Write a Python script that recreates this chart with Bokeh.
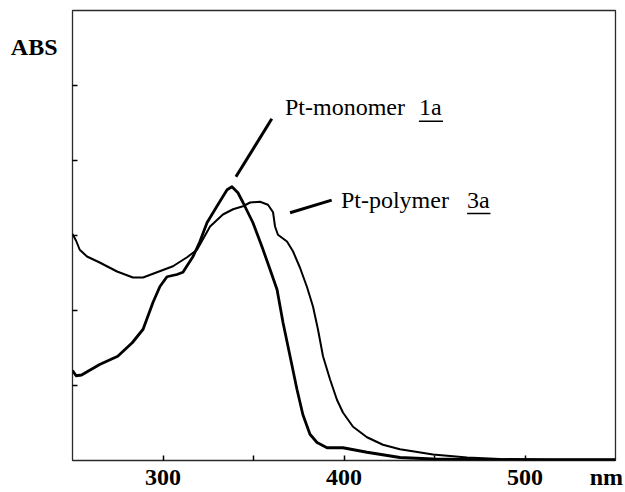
from bokeh.plotting import figure
from bokeh.models import Range1d, FixedTicker, ColumnDataSource
from bokeh.core.properties import value
from bokeh.embed import file_html
from bokeh.resources import INLINE

# ---- data ----
mono_nm = [250, 252, 255, 265, 275, 283, 289, 294.5, 298.3, 302.2, 307.7, 311, 316.6, 320.4,
           324.3, 329.8, 335.4, 338.1, 341.4, 344.2, 349.7, 354.7, 359.1, 363, 366.3, 370.2,
           374, 377.3, 381.2, 385.1, 390.6, 399.4, 412.7, 430.9, 449.2, 475, 510, 550]
mono_abs = [1.20, 1.13, 1.14, 1.28, 1.39, 1.57, 1.75, 2.11, 2.32, 2.45, 2.48, 2.51, 2.72, 2.92,
            3.17, 3.39, 3.61, 3.65, 3.57, 3.44, 3.17, 2.85, 2.55, 2.28, 1.84, 1.39,
            0.95, 0.61, 0.35, 0.24, 0.17, 0.17, 0.11, 0.04, 0.02, 0.01, 0.01, 0.01]

poly_nm = [250, 252, 254, 258, 265, 274.6, 283.4, 289, 296.7, 305.5, 313.3, 318.8, 326, 333.1,
           338.7, 344.2, 348.1, 353.6, 358, 360.8, 361.9, 363.5, 368.5, 371.8, 375.7, 379.6,
           382.9, 385.6, 388.4, 392.3, 396.1, 399.4, 405, 412.7, 421.5, 430.9, 449.2, 468,
           486.2, 514, 550]
poly_abs = [3.02, 2.93, 2.81, 2.72, 2.64, 2.52, 2.44, 2.44, 2.51, 2.59, 2.71, 2.81, 3.12, 3.28,
            3.35, 3.39, 3.44, 3.45, 3.41, 3.31, 3.12, 3.01, 2.92, 2.79, 2.57, 2.31,
            2.05, 1.75, 1.39, 1.08, 0.81, 0.64, 0.45, 0.31, 0.21, 0.15, 0.08, 0.04,
            0.02, 0.01, 0.01]

x_label_ticks = [300, 400, 500, 545]
x_tick_labels = ["300", "400", "500", "nm"]
x_marks = [300, 350, 400, 450, 500]
y_label_ticks = [5.52]
y_tick_labels = ["ABS"]
y_marks = [1, 2, 3, 4, 5]

# annotations (data coordinates)
ann_text = ["Pt-monomer", "Pt-polymer"]
ann_x = [367.4, 398.3]
ann_y = [4.709, 3.472]
ann_sub = ["1a", "3a"]
sub_x = [441.4, 468.0]
under_x1 = [454.7, 480.9]
under_y = [4.523, 3.292]
ptr_x0 = [360.1, 370.2]
ptr_y0 = [4.556, 3.303]
ptr_x1 = [340.3, 393.2]
ptr_y1 = [3.783, 3.471]

FONT = "Liberation Serif"

p = figure(width=625, height=492, output_backend="svg", toolbar_location=None,
           x_range=Range1d(250, 550), y_range=Range1d(0, 6),
           min_border_left=72, min_border_top=10, min_border_right=10, min_border_bottom=31)
p.grid.visible = False
p.outline_line_color = "#2a2a2a"
p.outline_line_width = 1.3
p.background_fill_color = "white"
p.border_fill_color = "white"

xa = p.xaxis[0]
xa.ticker = FixedTicker(ticks=x_label_ticks, minor_ticks=x_marks)
xa.major_label_overrides = {t: s for t, s in zip(x_label_ticks, x_tick_labels)}
xa.axis_line_color = None
xa.major_tick_in = 0
xa.major_tick_out = 0
xa.minor_tick_in = 5
xa.minor_tick_out = 0
xa.minor_tick_line_color = "black"
xa.minor_tick_line_width = 1.5
xa.major_label_text_font = FONT
xa.major_label_text_font_size = "24px"
xa.major_label_text_font_style = "bold"
xa.major_label_text_color = "black"
xa.major_label_text_line_height = 1.0
xa.major_label_standoff = 3

ya = p.yaxis[0]
ya.ticker = FixedTicker(ticks=y_label_ticks, minor_ticks=y_marks)
ya.major_label_overrides = {t: s for t, s in zip(y_label_ticks, y_tick_labels)}
ya.axis_line_color = None
ya.major_tick_in = 0
ya.major_tick_out = 0
ya.minor_tick_in = 5
ya.minor_tick_out = 0
ya.minor_tick_line_color = "black"
ya.minor_tick_line_width = 1.5
ya.major_label_text_font = FONT
ya.major_label_text_font_size = "24px"
ya.major_label_text_font_style = "bold"
ya.major_label_text_color = "black"
ya.major_label_standoff = 15
ya.major_label_orientation = "horizontal"

p.line(poly_nm, poly_abs, line_color="black", line_width=2.0, line_join="round")
p.line(mono_nm, mono_abs, line_color="black", line_width=2.8, line_join="round")

src = ColumnDataSource(dict(x=ann_x, y=ann_y, t=ann_text, sx=sub_x, s=ann_sub,
                            ux1=under_x1, uy=under_y,
                            px0=ptr_x0, py0=ptr_y0, px1=ptr_x1, py1=ptr_y1))
p.text(x="x", y="y", text="t", source=src, text_font=value(FONT), text_font_size="24px",
       text_color="black", text_align="left", text_baseline="alphabetic")
p.text(x="sx", y="y", text="s", source=src, text_font=value(FONT), text_font_size="24px",
       text_color="black", text_align="left", text_baseline="alphabetic")
p.segment(x0="sx", y0="uy", x1="ux1", y1="uy", source=src, line_color="black", line_width=1.5)
p.segment(x0="px0", y0="py0", x1="px1", y1="py1", source=src, line_color="black", line_width=3)

open("out.html", "w").write(file_html(p, INLINE))
